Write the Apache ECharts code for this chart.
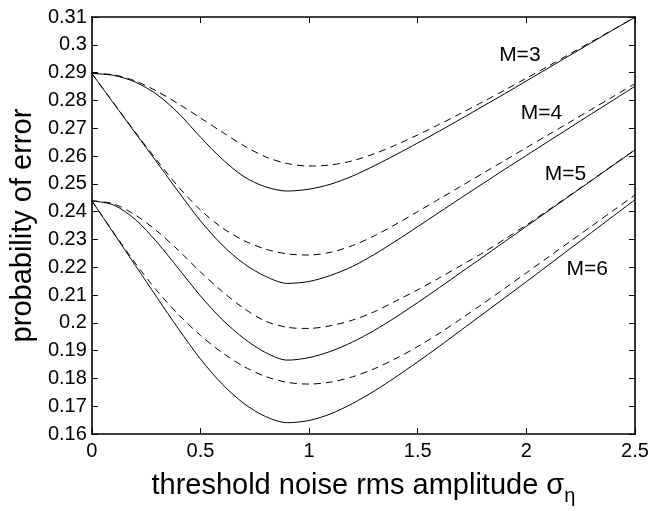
<!DOCTYPE html>
<html><head><meta charset="utf-8">
<script src="https://cdn.jsdelivr.net/npm/echarts@6/dist/echarts.min.js"></script>
<style>html,body{margin:0;padding:0;background:#fff}#c{width:666px;height:511px}</style>
</head><body><div id="c"></div>
<script>
const sigma = [0,0.1,0.2,0.3,0.4,0.5,0.6,0.7,0.8,0.9,1.0,1.1,1.2,1.3,1.4,1.5,1.6,1.7,1.8,1.9,2.0,2.1,2.2,2.3,2.4,2.5];
const m3Solid = [0.2897,0.2890,0.2866,0.2821,0.2753,0.2668,0.2589,0.2526,0.2489,0.2474,0.2481,0.2499,0.2528,0.2565,0.2605,0.2647,0.2690,0.2734,0.2779,0.2824,0.2870,0.2916,0.2962,0.3008,0.3054,0.3099];
const m3Dash  = [0.2897,0.2892,0.2870,0.2833,0.2787,0.2737,0.2686,0.2637,0.2597,0.2573,0.2564,0.2568,0.2583,0.2608,0.2640,0.2676,0.2714,0.2754,0.2795,0.2837,0.2880,0.2923,0.2967,0.3011,0.3055,0.3099];
const m4Solid = [0.2897,0.2790,0.2683,0.2577,0.2470,0.2367,0.2280,0.2213,0.2167,0.2142,0.2149,0.2171,0.2203,0.2246,0.2295,0.2346,0.2398,0.2450,0.2501,0.2552,0.2602,0.2652,0.2702,0.2752,0.2801,0.2851];
const m4Dash  = [0.2897,0.2791,0.2686,0.2584,0.2488,0.2406,0.2342,0.2296,0.2265,0.2248,0.2244,0.2254,0.2278,0.2313,0.2355,0.2400,0.2446,0.2492,0.2538,0.2584,0.2630,0.2676,0.2722,0.2768,0.2814,0.2860];
const m5Solid = [0.2439,0.2424,0.2372,0.2290,0.2194,0.2097,0.2012,0.1944,0.1893,0.1866,0.1875,0.1898,0.1931,0.1973,0.2021,0.2073,0.2127,0.2182,0.2237,0.2292,0.2347,0.2402,0.2457,0.2512,0.2567,0.2622];
const m5Dash  = [0.2439,0.2428,0.2388,0.2330,0.2260,0.2183,0.2113,0.2052,0.2006,0.1984,0.1980,0.1990,0.2010,0.2040,0.2079,0.2119,0.2162,0.2207,0.2252,0.2301,0.2352,0.2405,0.2459,0.2513,0.2568,0.2623];
const m6Solid = [0.2439,0.2323,0.2207,0.2091,0.1977,0.1870,0.1780,0.1710,0.1663,0.1641,0.1649,0.1673,0.1710,0.1755,0.1806,0.1860,0.1916,0.1974,0.2032,0.2090,0.2148,0.2207,0.2266,0.2325,0.2384,0.2443];
const m6Dash  = [0.2439,0.2325,0.2215,0.2115,0.2029,0.1955,0.1893,0.1843,0.1807,0.1786,0.1780,0.1787,0.1806,0.1835,0.1872,0.1915,0.1963,0.2015,0.2069,0.2124,0.2180,0.2236,0.2292,0.2348,0.2404,0.2460];
const labelNames = ['M=3','M=4','M=5','M=6'];
const labelSigma = [1.97,2.07,2.18,2.28];
const labelProb  = [0.2963,0.2755,0.2536,0.2192];
const xMin = 0, xMax = 2.5, xStep = 0.5;
const yMin = 0.16, yMax = 0.31, yStep = 0.01;
const xTitle = 'threshold noise rms amplitude {s|σ}{sub|η}';
const yTitle = 'probability of error';

const FONT = '"Liberation Sans", Arial, Helvetica, sans-serif';
const pairs = ys => sigma.map((s,i)=>[s, ys[i]]);
const lineSeries = (ys, dashed) => ({
  type:'line', data: pairs(ys), showSymbol:false, symbol:'none', smooth:0.3,
  lineStyle:{color:'#000', width:1, type: dashed ? [7,5] : 'solid'},
  silent:true, animation:false, z:3
});
const axisCommon = {
  axisLine:{show:true, onZero:false, lineStyle:{color:'#000', width:1.6}},
  axisTick:{show:true, inside:true, length:6, lineStyle:{color:'#000', width:1}},
  splitLine:{show:false}
};
const chart = echarts.init(document.getElementById('c'), null, {renderer:'canvas'});
chart.setOption({
  animation:false,
  backgroundColor:'#fff',
  grid:{left:87, right:31, top:17, bottom:61, containLabel:false},
  xAxis:[
    Object.assign({type:'value', min:xMin, max:xMax, interval:xStep, position:'bottom',
      axisLabel:{color:'#000', fontSize:20, margin:7, fontFamily:FONT},
      name:xTitle, nameLocation:'middle', nameGap:30,
      nameTextStyle:{color:'#000', fontSize:29, fontFamily:FONT, lineHeight:40,
        rich:{s:{fontSize:29, fontFamily:FONT, color:'#000', lineHeight:40},
              sub:{fontSize:20, fontFamily:FONT, color:'#000', lineHeight:18, verticalAlign:'bottom'}}}
    }, axisCommon),
    Object.assign({type:'value', min:xMin, max:xMax, interval:xStep, position:'top',
      axisLabel:{show:false}}, axisCommon)
  ],
  yAxis:[
    Object.assign({type:'value', min:yMin, max:yMax, interval:yStep, position:'left',
      axisLabel:{color:'#000', fontSize:20, margin:5, fontFamily:FONT},
      name:yTitle, nameLocation:'middle', nameGap:47,
      nameTextStyle:{color:'#000', fontSize:29, fontFamily:FONT}
    }, axisCommon),
    Object.assign({type:'value', min:yMin, max:yMax, interval:yStep, position:'right',
      axisLabel:{show:false}}, axisCommon)
  ],
  series:[
    lineSeries(m3Solid,false), lineSeries(m3Dash,true),
    lineSeries(m4Solid,false), lineSeries(m4Dash,true),
    lineSeries(m5Solid,false), lineSeries(m5Dash,true),
    lineSeries(m6Solid,false), lineSeries(m6Dash,true),
    {type:'scatter', silent:true, symbolSize:1, z:5,
     itemStyle:{color:'rgba(0,0,0,0)', opacity:1},
     data: labelNames.map((n,i)=>({name:n, value:[labelSigma[i], labelProb[i]]})),
     label:{show:true, position:'inside', formatter:'{b}', color:'#000', opacity:1,
            textBorderWidth:0, fontSize:21, fontFamily:FONT}}
  ]
});
</script></body></html>
